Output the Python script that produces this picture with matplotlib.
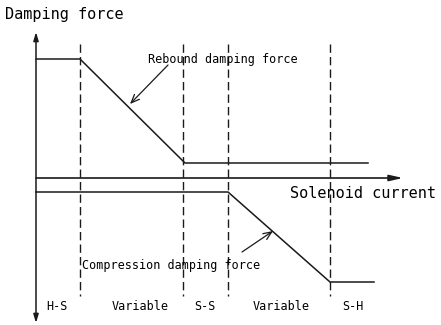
import matplotlib
matplotlib.use("Agg")
import matplotlib.pyplot as plt

## data (x = solenoid current, y = damping force, arbitrary units)
region_bounds = [44, 147, 192, 294]
region_labels = ["H-S", "Variable", "S-S", "Variable", "S-H"]
region_centers = [21, 104, 169, 245, 317]

rebound_x = [0, 44, 149, 332]
rebound_y = [119, 119, 15, 15]
compression_x = [0, 192, 294, 338]
compression_y = [-14, -14, -104, -104]

ink = "#1a1a1a"
mono = "DejaVu Sans Mono"

fig = plt.figure(figsize=(4.41, 3.25), dpi=100)
ax = fig.add_axes([0, 0, 1, 1])
ax.set_xlim(-36, 405)
ax.set_ylim(-147, 178)
ax.axis("off")

## axes with arrows
ax.annotate("", xy=(0, 146), xytext=(0, -145),
            arrowprops=dict(arrowstyle="<|-|>,head_length=0.5,head_width=0.15", color=ink, lw=1.1,
                            shrinkA=0, shrinkB=0))
ax.annotate("", xy=(367, 0), xytext=(0, 0),
            arrowprops=dict(arrowstyle="-|>,head_length=0.8,head_width=0.18", color=ink, lw=1.2,
                            shrinkA=0, shrinkB=0))

## region borders
for b in region_bounds:
    ax.plot([b, b], [134, -118], color=ink, lw=1.0, ls=(0, (6, 3)))

## damping force curves
ax.plot(rebound_x, rebound_y, color=ink, lw=1.1)
ax.plot(compression_x, compression_y, color=ink, lw=1.1)

## texts
ax.text(-31, 164, "Damping force", family=mono, fontsize=11, va="center", ha="left")
ax.text(254, -15, "Solenoid current", family=mono, fontsize=11, va="center", ha="left")
ax.text(112, 118, "Rebound damping force", family=mono, fontsize=8.5, va="center", ha="left")
ax.text(46, -87, "Compression damping force", family=mono, fontsize=8.5, va="center", ha="left")
for cx, lab in zip(region_centers, region_labels):
    ax.text(cx, -128, lab, family=mono, fontsize=8.5, va="center", ha="center")

## pointer arrows
ax.annotate("", xy=(94, 74), xytext=(132, 113),
            arrowprops=dict(arrowstyle="->,head_length=0.6,head_width=0.25", color=ink, lw=0.9,
                            shrinkA=0, shrinkB=0))
ax.annotate("", xy=(237, -53), xytext=(206, -74),
            arrowprops=dict(arrowstyle="->,head_length=0.6,head_width=0.25", color=ink, lw=0.9,
                            shrinkA=0, shrinkB=0))

fig.savefig("out.png", dpi=100)
